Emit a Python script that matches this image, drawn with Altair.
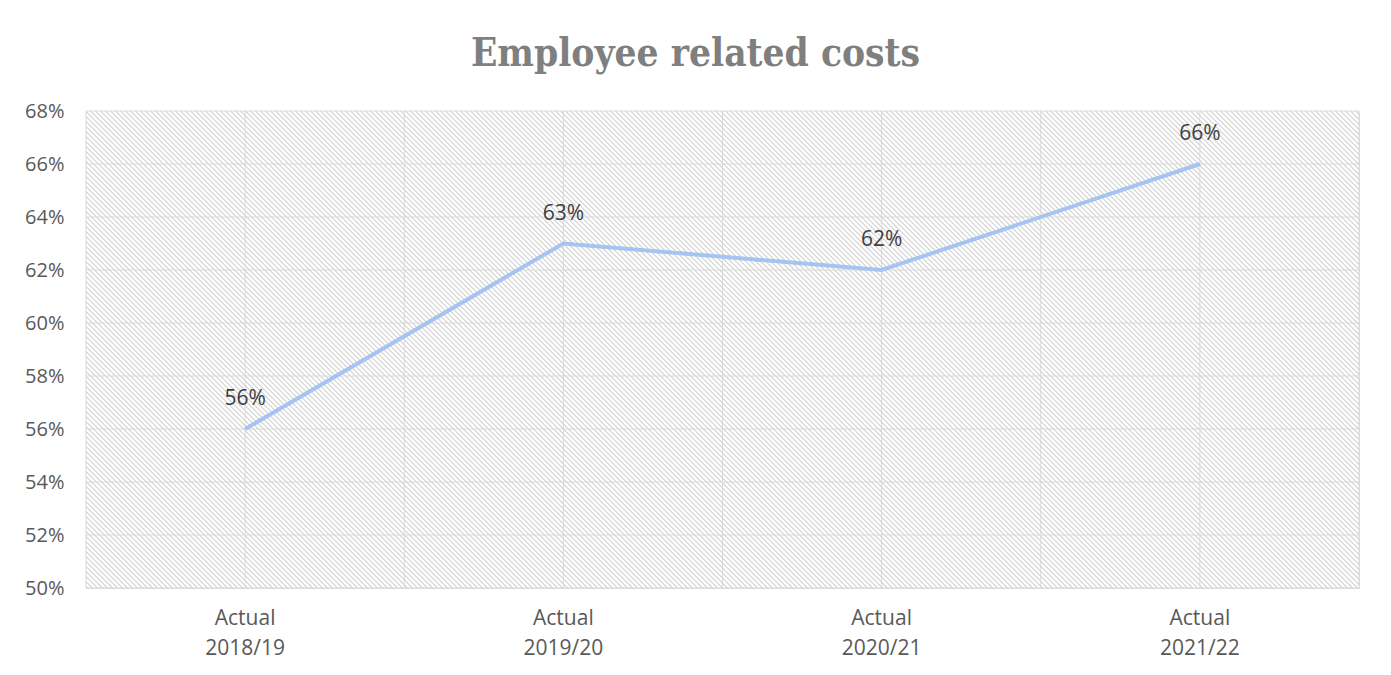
import altair as alt
import pandas as pd

# ---- data ----
categories = ["Actual 2018/19", "Actual 2019/20", "Actual 2020/21", "Actual 2021/22"]
values = [0.56, 0.63, 0.62, 0.66]
y_ticks = [0.50, 0.52, 0.54, 0.56, 0.58, 0.60, 0.62, 0.64, 0.66, 0.68]

W, H = 1273, 477
df = pd.DataFrame({"cat": categories, "val": values})
df_ticks = pd.DataFrame({"t": y_ticks})

# ---- hatched background via repeating linear gradient (integer pixel period) ----
s = 5
N = (W + H) // s
f = 0.4
phase = 0.1
stripe, blank = "#dcdcdc", "#ffffff"
stops = [alt.GradientStop(offset=0, color=blank)]
for k in range(N):
    a = (k + phase) / N
    b = (k + phase + f) / N
    stops += [
        alt.GradientStop(offset=a, color=blank),
        alt.GradientStop(offset=a, color=stripe),
        alt.GradientStop(offset=b, color=stripe),
        alt.GradientStop(offset=b, color=blank),
    ]
stops.append(alt.GradientStop(offset=1, color=blank))
t = (W + H) / (W * W + H * H)
grad = alt.LinearGradient(
    gradient="linear", stops=stops,
    x1=0, y1=1, x2=W * t, y2=1 - H * t,
)

xscale = alt.Scale(domain=categories, paddingInner=0, paddingOuter=0)
yscale = alt.Scale(domain=[0.5, 0.68], nice=False, zero=False)

GRID = "#d9d9d9"

xaxis = alt.Axis(
    title=None, labelAngle=0, labelExpr="split(datum.label, ' ')",
    labelLineHeight=30, labelFontSize=21, labelFont="Open Sans",
    labelColor="#595959", labelPadding=19, ticks=False, domain=False, grid=False,
    bandPosition=0.5,
)
yaxis = alt.Axis(
    title=None, values=y_ticks, format=".0%", labelFontSize=20,
    labelFont="Open Sans", labelColor="#595959", labelPadding=22,
    ticks=False, domain=False, grid=False,
)

bg = alt.Chart(pd.DataFrame({"k": [0]})).mark_rect(fill=grad).encode(
    x=alt.value(0), x2=alt.value("width"), y=alt.value(0), y2=alt.value("height")
)

vgrid_edge = alt.Chart(df).mark_rule(color=GRID, strokeWidth=1).encode(
    x=alt.X("cat:N", scale=xscale, bandPosition=0, axis=xaxis, sort=categories)
)
vgrid_end = alt.Chart(df.tail(1)).mark_rule(color=GRID, strokeWidth=1).encode(
    x=alt.X("cat:N", scale=xscale, bandPosition=1, axis=xaxis, sort=categories)
)
vgrid_mid = alt.Chart(df).mark_rule(color=GRID, strokeWidth=1).encode(
    x=alt.X("cat:N", scale=xscale, bandPosition=0.5, axis=xaxis, sort=categories)
)
hgrid = alt.Chart(df_ticks).mark_rule(color=GRID, strokeWidth=1).encode(
    y=alt.Y("t:Q", scale=yscale, axis=yaxis)
)

line = alt.Chart(df).mark_line(color="#a6c4f2", strokeWidth=4).encode(
    x=alt.X("cat:N", scale=xscale, bandPosition=0.5, axis=xaxis, sort=categories),
    y=alt.Y("val:Q", scale=yscale, axis=yaxis),
)

labels = alt.Chart(df).mark_text(
    dy=-24, baseline="alphabetic", align="center", fontSize=21,
    font="Open Sans", color="#404040",
).encode(
    x=alt.X("cat:N", scale=xscale, bandPosition=0.5, axis=xaxis, sort=categories),
    y=alt.Y("val:Q", scale=yscale, axis=yaxis),
    text=alt.Text("val:Q", format=".0%"),
)

chart = alt.layer(bg, vgrid_edge, vgrid_end, vgrid_mid, hgrid, line, labels).properties(
    width=W, height=H,
    autosize=alt.AutoSizeParams(type="none"),
    padding={"left": 78, "top": 103, "right": 24, "bottom": 79},
    title=alt.TitleParams(
        "Employee related costs", font="DejaVu Serif Condensed", fontSize=38.5,
        fontWeight="bold", color="#7f7f7f", anchor="middle", dx=-27,
        offset=7, dy=10, baseline="alphabetic",
    ),
).configure_view(stroke=None).configure(background="white")

chart.save("out.html", embed_options={"renderer": "svg", "actions": False})
